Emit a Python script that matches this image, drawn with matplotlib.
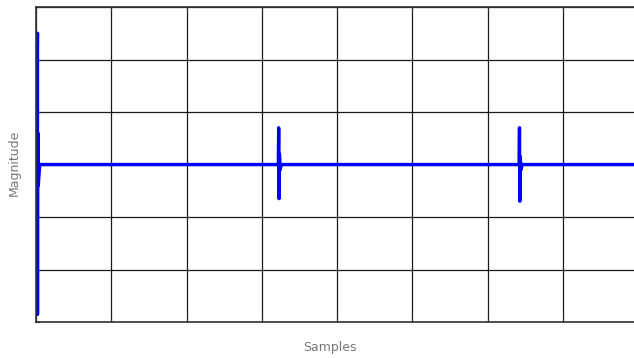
import matplotlib.pyplot as plt

# опорные точки сигнала (отсчёты / амплитуда)
samples = [0, 20, 20, 20, 25, 30, 50, 3220, 3225, 3230, 3235, 3245, 3260,
           6420, 6425, 6430, 6435, 6445, 6460, 8000]
magnitude = [0, 2.5, -2.85, -0.8, 0.6, -0.4, 0, 0, 0.7, -0.65, 0.2, -0.1, 0,
             0, 0.7, -0.7, 0.15, -0.1, 0, 0]

x_ticks = [0, 1000, 2000, 3000, 4000, 5000, 6000, 7000, 8000]
y_ticks = [-3, -2, -1, 0, 1, 2, 3]

fig = plt.figure(figsize=(6.34, 3.58), dpi=100)
W, H = 634, 358
left, right, top, bottom = 36, 638, 7, 322
ax = fig.add_axes([left / W, 1 - bottom / H, (right - left) / W, (bottom - top) / H])

ax.plot(samples, magnitude, color='#0000ff', linewidth=2.4, solid_joinstyle='round')

ax.set_xlim(0, 8000)
ax.set_ylim(-3, 3)
ax.set_xticks(x_ticks)
ax.set_yticks(y_ticks)
ax.set_xticklabels([])
ax.set_yticklabels([])
ax.tick_params(direction='in', length=3, color='#333333', top=True, right=True)
ax.grid(True, color='#1a1a1a', linewidth=0.9)
ax.set_axisbelow(True)
for s in ax.spines.values():
    s.set_color('#333333')
    s.set_linewidth(1.2)

fig.text(330 / W, 1 - 347 / H, 'Samples', color='#777777', fontsize=9,
         ha='center', va='center')
fig.text(14 / W, 1 - 163 / H, 'Magnitude', color='#777777', fontsize=9,
         ha='center', va='center', rotation=90)

fig.savefig('out.png', dpi=100)
